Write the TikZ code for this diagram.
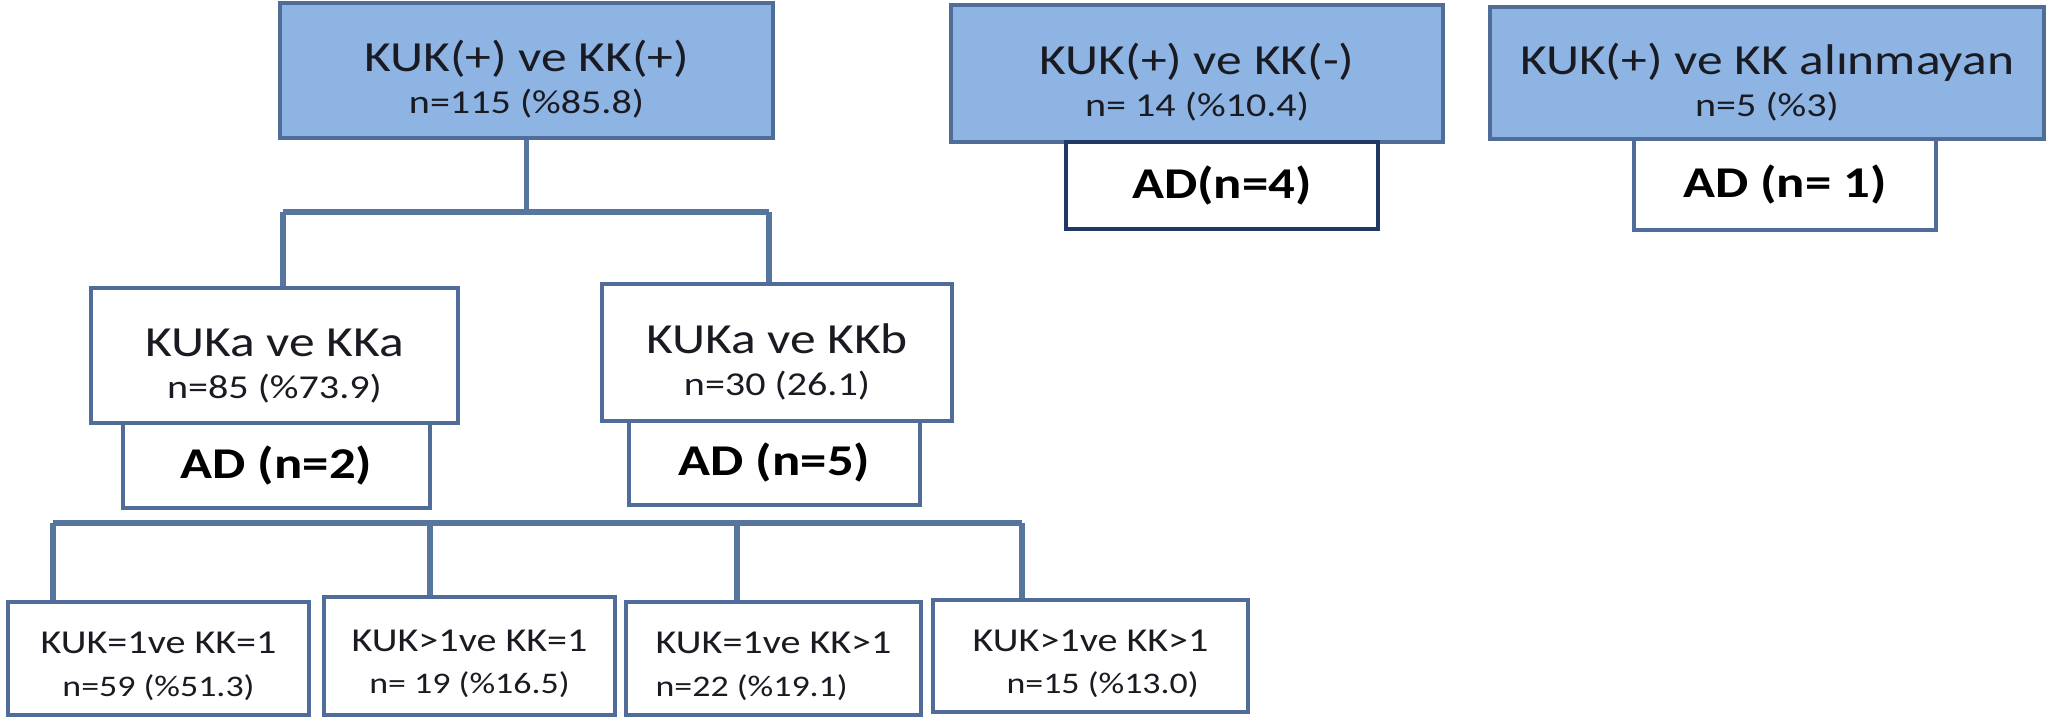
\documentclass[tikz,border=0pt]{standalone}
\usepackage{fontspec}
\setmainfont{Carlito}[FakeStretch=1.2]
\usepackage{tikz}
\usetikzlibrary{calc}

\definecolor{boxblue}{HTML}{8DB4E2}
\definecolor{edgeblue}{HTML}{4F6D98}
\definecolor{linkblue}{HTML}{56769F}
\definecolor{navy}{HTML}{1F3864}
\definecolor{ink}{HTML}{1A1A22}

\newcommand{\titlesz}{\fontsize{12.2}{14.5}\selectfont\rule{0pt}{14pt}}
\newcommand{\subsz}{\fontsize{9.5}{14.5}\selectfont}
\newcommand{\adsz}{\fontsize{12.5}{15}\selectfont\bfseries}
\newcommand{\smalltitle}{\fontsize{9.5}{11.4}\selectfont\rule{0pt}{10.5pt}}
\newcommand{\smallsub}{\fontsize{8.5}{11.4}\selectfont}

\tikzset{
  grp/.style={draw=edgeblue, line width=1.1pt, fill=boxblue, text=ink, align=center, inner sep=0pt},
  sub/.style={draw=edgeblue, line width=1.1pt, fill=white, text=ink, align=center, inner sep=0pt},
  adbox/.style={draw=edgeblue, line width=1.1pt, fill=white, text=black, inner sep=0pt},
  link/.style={draw=linkblue, line width=1.5pt},
}

\begin{document}
\begin{tikzpicture}[x=0.01cm, y=-0.01cm]
        \useasboundingbox (0,0) rectangle (2049,718);
        \node [grp, minimum width=4.93cm, minimum height=1.35cm] (top) at (526.5,70.5)
            {\titlesz KUK(+) ve KK(+)\\\subsz n=115 (\%85.8)};
        \node [grp, minimum width=4.92cm, minimum height=1.37cm] (neg) at (1197,73.5)
            {\titlesz KUK(+) ve KK(-)\\\subsz n= 14 (\%10.4)};
        \node [grp, minimum width=5.54cm, minimum height=1.32cm] (none) at (1767,73)
            {\titlesz KUK(+) ve KK alınmayan\\\subsz n=5 (\%3)};
        \node [adbox, draw=navy, minimum width=3.12cm, minimum height=0.87cm] (adneg) at (1222,185.5)
            {\adsz AD(n=4)};
        \node [adbox, minimum width=3.02cm, minimum height=0.91cm] (adnone) at (1785,184.5)
            {\adsz AD (n= 1)};

        \node [sub, minimum width=3.67cm, minimum height=1.35cm] (kka) at (274.5,355.5)
            {\titlesz KUKa ve KKa\\\subsz n=85 (\%73.9)};
        \node [adbox, minimum width=3.07cm, minimum height=0.85cm] (adkka) at (276.5,465.5)
            {\adsz AD (n=2)};
        \node [sub, minimum width=3.50cm, minimum height=1.37cm] (kkb) at (777,352.5)
            {\titlesz KUKa ve KKb\\\subsz n=30 (26.1)};
        \node [adbox, minimum width=2.91cm, minimum height=0.84cm] (adkkb) at (774.5,463)
            {\adsz AD (n=5)};

        \node [sub, minimum width=3.01cm, minimum height=1.13cm] (b1) at (158.5,658.5)
            {\smalltitle KUK=1ve KK=1\\\smallsub n=59 (\%51.3)};
        \node [sub, minimum width=2.91cm, minimum height=1.18cm] (b2) at (469.5,656)
            {\smalltitle KUK>1ve KK=1\\\smallsub n= 19 (\%16.5)};
        \node [sub, align=left, minimum width=2.95cm, minimum height=1.13cm] (b3) at (773.5,658.5)
            {\smalltitle KUK=1ve KK>1\\\smallsub n=22 (\%19.1)};
        \node [sub, minimum width=3.15cm, minimum height=1.12cm] (b4) at (1090.5,656)
            {\smalltitle KUK>1ve KK>1\\\smallsub \ \ \ n=15 (\%13.0)};

        \coordinate (s1l) at (283,212);
        \coordinate (s1r) at (769,212);
        \draw[link] (top.south) -- (top.south |- s1l);
        \draw[link] (s1l) -- (s1r);
        \draw[link] (s1l) -- (s1l |- kka.north);
        \draw[link] (s1r) -- (s1r |- kkb.north);

        \coordinate (s2a) at (53,523);
        \coordinate (s2b) at (430,523);
        \coordinate (s2c) at (737,523);
        \coordinate (s2d) at (1022,523);
        \draw[link] (s2a) -- (s2d);
        \draw[link] (s2a) -- (s2a |- b1.north);
        \draw[link] (s2b) -- (s2b |- b2.north);
        \draw[link] (s2c) -- (s2c |- b3.north);
        \draw[link] (s2d) -- (s2d |- b4.north);
    \end{tikzpicture}
\end{document}
